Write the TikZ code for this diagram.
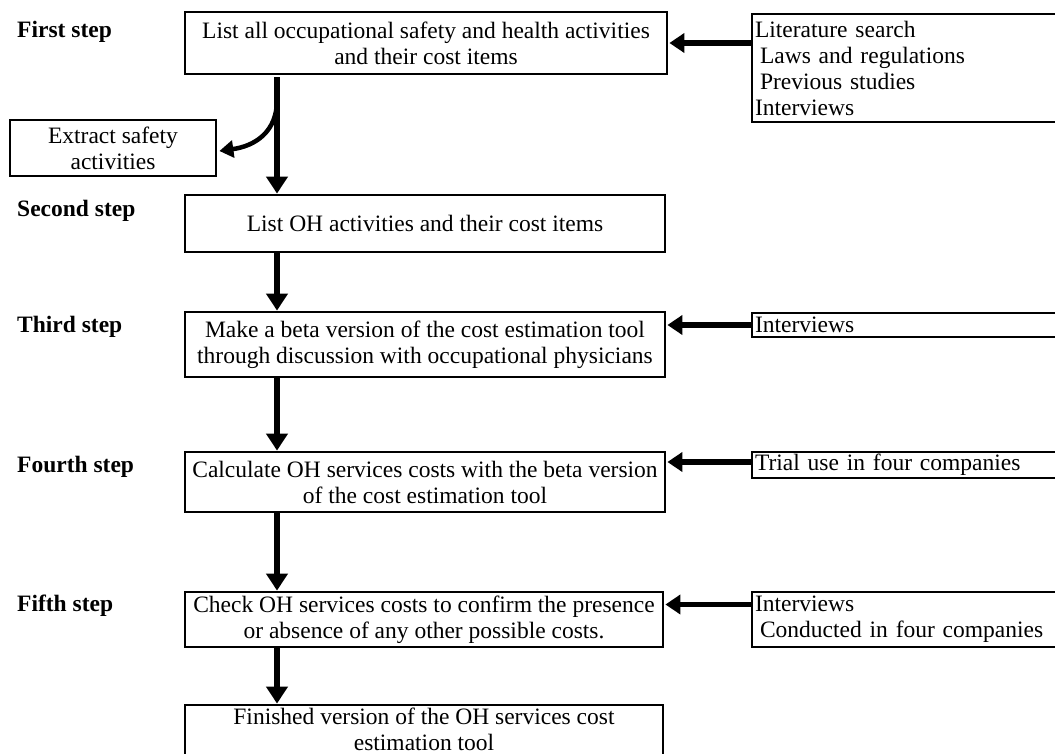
\documentclass[tikz,border=0pt]{standalone}
\usepackage{fontspec}
\setmainfont{Liberation Serif}
\usetikzlibrary{arrows.meta}
\newcommand\bodyfs{\fontsize{23.5}{26}\selectfont}
\begin{document}
\begin{tikzpicture}[x=1pt,y=-1pt,
  box/.style={draw, line width=2.8pt, inner sep=0pt, align=center, font=\bodyfs},
  rbox/.style={draw, line width=2.8pt, inner xsep=3pt, inner ysep=0pt, text width=304pt, align=left, font=\bodyfs},
  plaintext/.style={inner sep=0pt, align=center, font=\bodyfs},
  steplab/.style={anchor=west, inner sep=0pt, font=\bodyfs\bfseries},
  varrow/.style={line width=5.5pt, -{Triangle[length=17pt,width=21pt]}},
  harrow/.style={line width=5.5pt, -{Triangle[length=15pt,width=19pt]}},
  carrow/.style={line width=4.5pt, -{Triangle[length=14pt,width=17pt]}}]
\useasboundingbox (0,0) rectangle (1055,754);
\clip (0,0) rectangle (1055,754);

% step labels
\node[steplab] (s1) at (17,32) {First step};
\node[steplab] (s2) at (17,211) {Second step};
\node[steplab] (s3) at (17,327) {Third step};
\node[steplab] (s4) at (17,467) {Fourth step};
\node[steplab] (s5) at (17,606) {Fifth step};

% main boxes
\node[box, minimum width=482pt, minimum height=62pt] (B1) at (426,43)
  {List all occupational safety and health activities\\and their cost items};
\node[box, minimum width=206pt, minimum height=56pt] (E) at (113,148)
  {Extract safety\\activities};
\node[box, minimum width=480pt, minimum height=57pt] (B2) at (425,223.5)
  {List OH activities and their cost items};
\node[box, minimum width=480pt, minimum height=65pt] (B3) at (425,344.5)
  {Make a beta version of the cost estimation tool\\through discussion with occupational physicians};
\node[box, minimum width=480pt, minimum height=60pt] (B4) at (425,482)
  {Calculate OH services costs with the beta version\\of the cost estimation tool};
\node[box, minimum width=478pt, minimum height=55pt] (B5) at (424,619.5)
  {Check OH services costs to confirm the presence\\or absence of any other possible costs.};
\node[box, minimum width=478pt, minimum height=58pt] (B6) at (424,734) {};
\node[plaintext] (B6t) at (424,729) {Finished version of the OH services cost\\estimation tool};

% right boxes
\node[rbox, minimum height=108pt] (R1) at (907,68)
  {Literature search\\\hspace{5pt}Laws and regulations\\\hspace{5pt}Previous studies\\Interviews};
\node[rbox, minimum height=24pt] (R3) at (907,325) {Interviews};
\node[rbox, minimum height=26pt] (R4) at (907,465) {Trial use in four companies};
\node[rbox, minimum height=55pt] (R5) at (907,619.5)
  {Interviews\\\hspace{5pt}Conducted in four companies};

% vertical arrows
\coordinate (colx) at (277,0);
\coordinate (cs) at (277,100);
\draw[varrow] ([yshift=-2pt]B1.south -| colx) -- (B2.north -| colx);
\draw[carrow] (cs) .. controls (277,132) and (255,146) .. ([xshift=2pt,yshift=-3pt]E.east);
\draw[varrow] (B2.south -| colx) -- (B3.north -| colx);
\draw[varrow] (B3.south -| colx) -- (B4.north -| colx);
\draw[varrow] (B4.south -| colx) -- (B5.north -| colx);
\draw[varrow] (B5.south -| colx) -- (B6.north -| colx);

% horizontal arrows
\draw[harrow] (R1.west |- B1.east) -- ([xshift=1pt]B1.east);
\draw[harrow] (R3.west) -- ([xshift=1pt]B3.east |- R3.west);
\draw[harrow] ([yshift=3pt]R4.west) -- ([xshift=1pt,yshift=3pt]B4.east |- R4.west);
\draw[harrow] ([yshift=15pt]R5.west) -- ([xshift=1pt,yshift=15pt]B5.east |- R5.west);
\end{tikzpicture}
\end{document}
